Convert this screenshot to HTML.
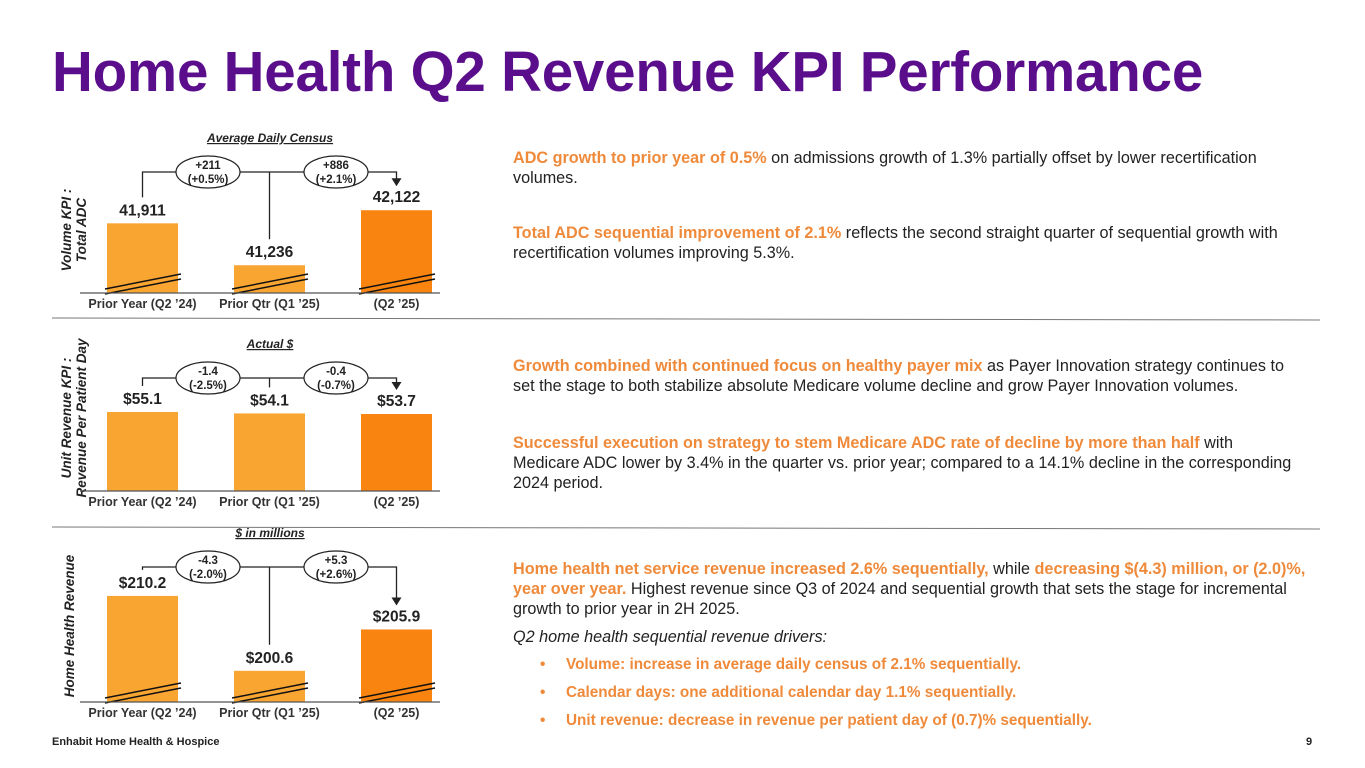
<!DOCTYPE html>
<html><head><meta charset="utf-8"><style>
body{margin:0;width:1365px;height:768px;background:#fff;position:relative;overflow:hidden;font-family:"Liberation Sans",sans-serif}
.t{position:absolute;left:52px;top:39px;font-size:56.5px;font-weight:bold;color:#5b0e8c;white-space:nowrap;letter-spacing:-0.2px}
.p{position:absolute;left:513px;width:782px;font-size:16.2px;line-height:20px;color:#222}
.o{color:#ef8a3b;font-weight:bold}
.b{position:absolute;left:566px;font-size:15.3px;font-weight:bold;color:#ef8a3b;white-space:nowrap}
.b:before{content:"•";position:absolute;left:-26px}
.ft{position:absolute;top:736px;font-size:11px;font-weight:bold;color:#222}
</style></head><body>
<div class="t">Home Health Q2 Revenue KPI Performance</div>
<div class="p" style="top:148px"><span class="o">ADC growth to prior year of 0.5%</span> on admissions growth of 1.3% partially offset by lower recertification volumes.</div>
<div class="p" style="top:223px"><span class="o">Total ADC sequential improvement of 2.1%</span> reflects the second straight quarter of sequential growth with recertification volumes improving 5.3%.</div>
<div class="p" style="top:356px"><span class="o">Growth combined with continued focus on healthy payer mix</span> as Payer Innovation strategy continues to set the stage to both stabilize absolute Medicare volume decline and grow Payer Innovation volumes.</div>
<div class="p" style="top:433px"><span class="o">Successful execution on strategy to stem Medicare ADC rate of decline by more than half</span> with Medicare ADC lower by 3.4% in the quarter vs. prior year; compared to a 14.1% decline in the corresponding 2024 period.</div>
<div class="p" style="top:559px;width:808px"><span class="o">Home health net service revenue increased 2.6% sequentially,</span> while <span class="o">decreasing $(4.3) million, or (2.0)%, year over year.</span> Highest revenue since Q3 of 2024 and sequential growth that sets the stage for incremental growth to prior year in 2H 2025.</div>
<div class="p" style="top:627px;font-style:italic">Q2 home health sequential revenue drivers:</div>
<div class="b" style="top:656px">Volume: increase in average daily census of 2.1% sequentially.</div>
<div class="b" style="top:684px">Calendar days: one additional calendar day 1.1% sequentially.</div>
<div class="b" style="top:712px">Unit revenue: decrease in revenue per patient day of (0.7)% sequentially.</div>
<div class="ft" style="left:52px">Enhabit Home Health &amp; Hospice</div>
<div class="ft" style="left:1306px">9</div>
<svg id="c" width="1365" height="768" style="position:absolute;left:0;top:0"></svg>
<script>
const categories=["Prior Year (Q2 ’24)","Prior Qtr (Q1 ’25)","(Q2 ’25)"];
const adcValues=[41911,41236,42122];
const adcLabels=["41,911","41,236","42,122"];
const adcChanges=[["+211","(+0.5%)"],["+886","(+2.1%)"]];
const rppdValues=[55.1,54.1,53.7];
const rppdLabels=["$55.1","$54.1","$53.7"];
const rppdChanges=[["-1.4","(-2.5%)"],["-0.4","(-0.7%)"]];
const revValues=[210.2,200.6,205.9];
const revLabels=["$210.2","$200.6","$205.9"];
const revChanges=[["-4.3","(-2.0%)"],["+5.3","(+2.6%)"]];
const svg=document.getElementById('c');const NS="http://www.w3.org/2000/svg";
function mk(t,a,txt){const e=document.createElementNS(NS,t);for(const k in a)e.setAttribute(k,a[k]);if(txt!==undefined)e.textContent=txt;svg.appendChild(e);return e;}
const xs=[107,234,361],bw=71;
function chart(cfg){
 const {name,values,labels,changes,base,lo,k,lineY,title,ytitle,breaks,yc}=cfg;
 const y=v=>base-(v-lo)*k;
 let t=mk('text',{x:270,y:lineY-30,'text-anchor':'middle','font-size':12,'font-weight':'bold','font-style':'italic','text-decoration':'underline',fill:'#222'},title);
 
 let yt=mk('text',{transform:`translate(74,${yc}) rotate(-90)`,'text-anchor':'middle','font-size':13.5,'font-weight':'bold','font-style':'italic',fill:'#222'});
 
 ytitle.forEach((s,i)=>{const ts=document.createElementNS(NS,'tspan');ts.setAttribute('x',0);ts.setAttribute('dy',i?15:(ytitle.length>1?-3:0));ts.textContent=s;yt.appendChild(ts);});
 values.forEach((v,i)=>{
  const r=mk('rect',{x:xs[i],y:y(v),width:bw,height:base-y(v),fill:i==2?'#f98510':'#f9a532'});
  
  const l=mk('text',{x:xs[i]+bw/2,y:y(v)-8,'text-anchor':'middle','font-size':15.5,'font-weight':'bold',fill:'#222'},labels[i]);
  
  const c=mk('text',{x:xs[i]+bw/2,y:base+15,'text-anchor':'middle','font-size':12.5,'font-weight':'bold',fill:'#333'},categories[i]);
  
  if(breaks){mk('line',{x1:xs[i]-2,y1:base-4,x2:xs[i]+bw+3,y2:base-19,stroke:'#111','stroke-width':1.5});mk('line',{x1:xs[i]-2,y1:base+1,x2:xs[i]+bw+3,y2:base-14,stroke:'#111','stroke-width':1.5});}
 });
 const ax=mk('line',{x1:80,y1:base,x2:440,y2:base,stroke:'#555','stroke-width':1.2});
 
 const cx=xs.map(x=>x+bw/2);
 mk('path',{d:`M${cx[0]},${y(values[0])-26} V${lineY} H${cx[2]} V${y(values[2])-30}`,fill:'none',stroke:'#222','stroke-width':1.3});
 mk('line',{x1:cx[1],y1:lineY,x2:cx[1],y2:y(values[1])-26,stroke:'#222','stroke-width':1.3});
 const ay=y(values[2])-24;mk('path',{d:`M${cx[2]-5},${ay-8} L${cx[2]+5},${ay-8} L${cx[2]},${ay} Z`,fill:'#222'});
 [208,336].forEach((ex,j)=>{
  const e=mk('ellipse',{cx:ex,cy:lineY,rx:32,ry:16,fill:'#fff',stroke:'#222','stroke-width':1.2});
  
  mk('text',{x:ex,y:lineY-3,'text-anchor':'middle','font-size':11.5,'font-weight':'bold',fill:'#222'},changes[j][0]);
  mk('text',{x:ex,y:lineY+11,'text-anchor':'middle','font-size':11.5,'font-weight':'bold',fill:'#222'},changes[j][1]);
 });
}
chart({name:'adc',values:adcValues,labels:adcLabels,changes:adcChanges,base:293,lo:40789,k:0.0621,lineY:172,title:'Average Daily Census',ytitle:['Volume KPI :','Total ADC'],breaks:true,yc:230});
chart({name:'rppd',values:rppdValues,labels:rppdLabels,changes:rppdChanges,base:491,lo:0,k:1.434,lineY:378,title:'Actual $',ytitle:['Unit Revenue KPI :','Revenue Per Patient Day'],breaks:false,yc:418});
chart({name:'revenue',values:revValues,labels:revLabels,changes:revChanges,base:702,lo:196.6,k:7.8,lineY:567,title:'$ in millions',ytitle:['Home Health Revenue'],breaks:true,yc:626});
[318,527].forEach((yy,i)=>{const s=mk('line',{x1:52,y1:yy,x2:1320,y2:yy+2,stroke:'#777','stroke-width':1});});
</script>
</body></html>
